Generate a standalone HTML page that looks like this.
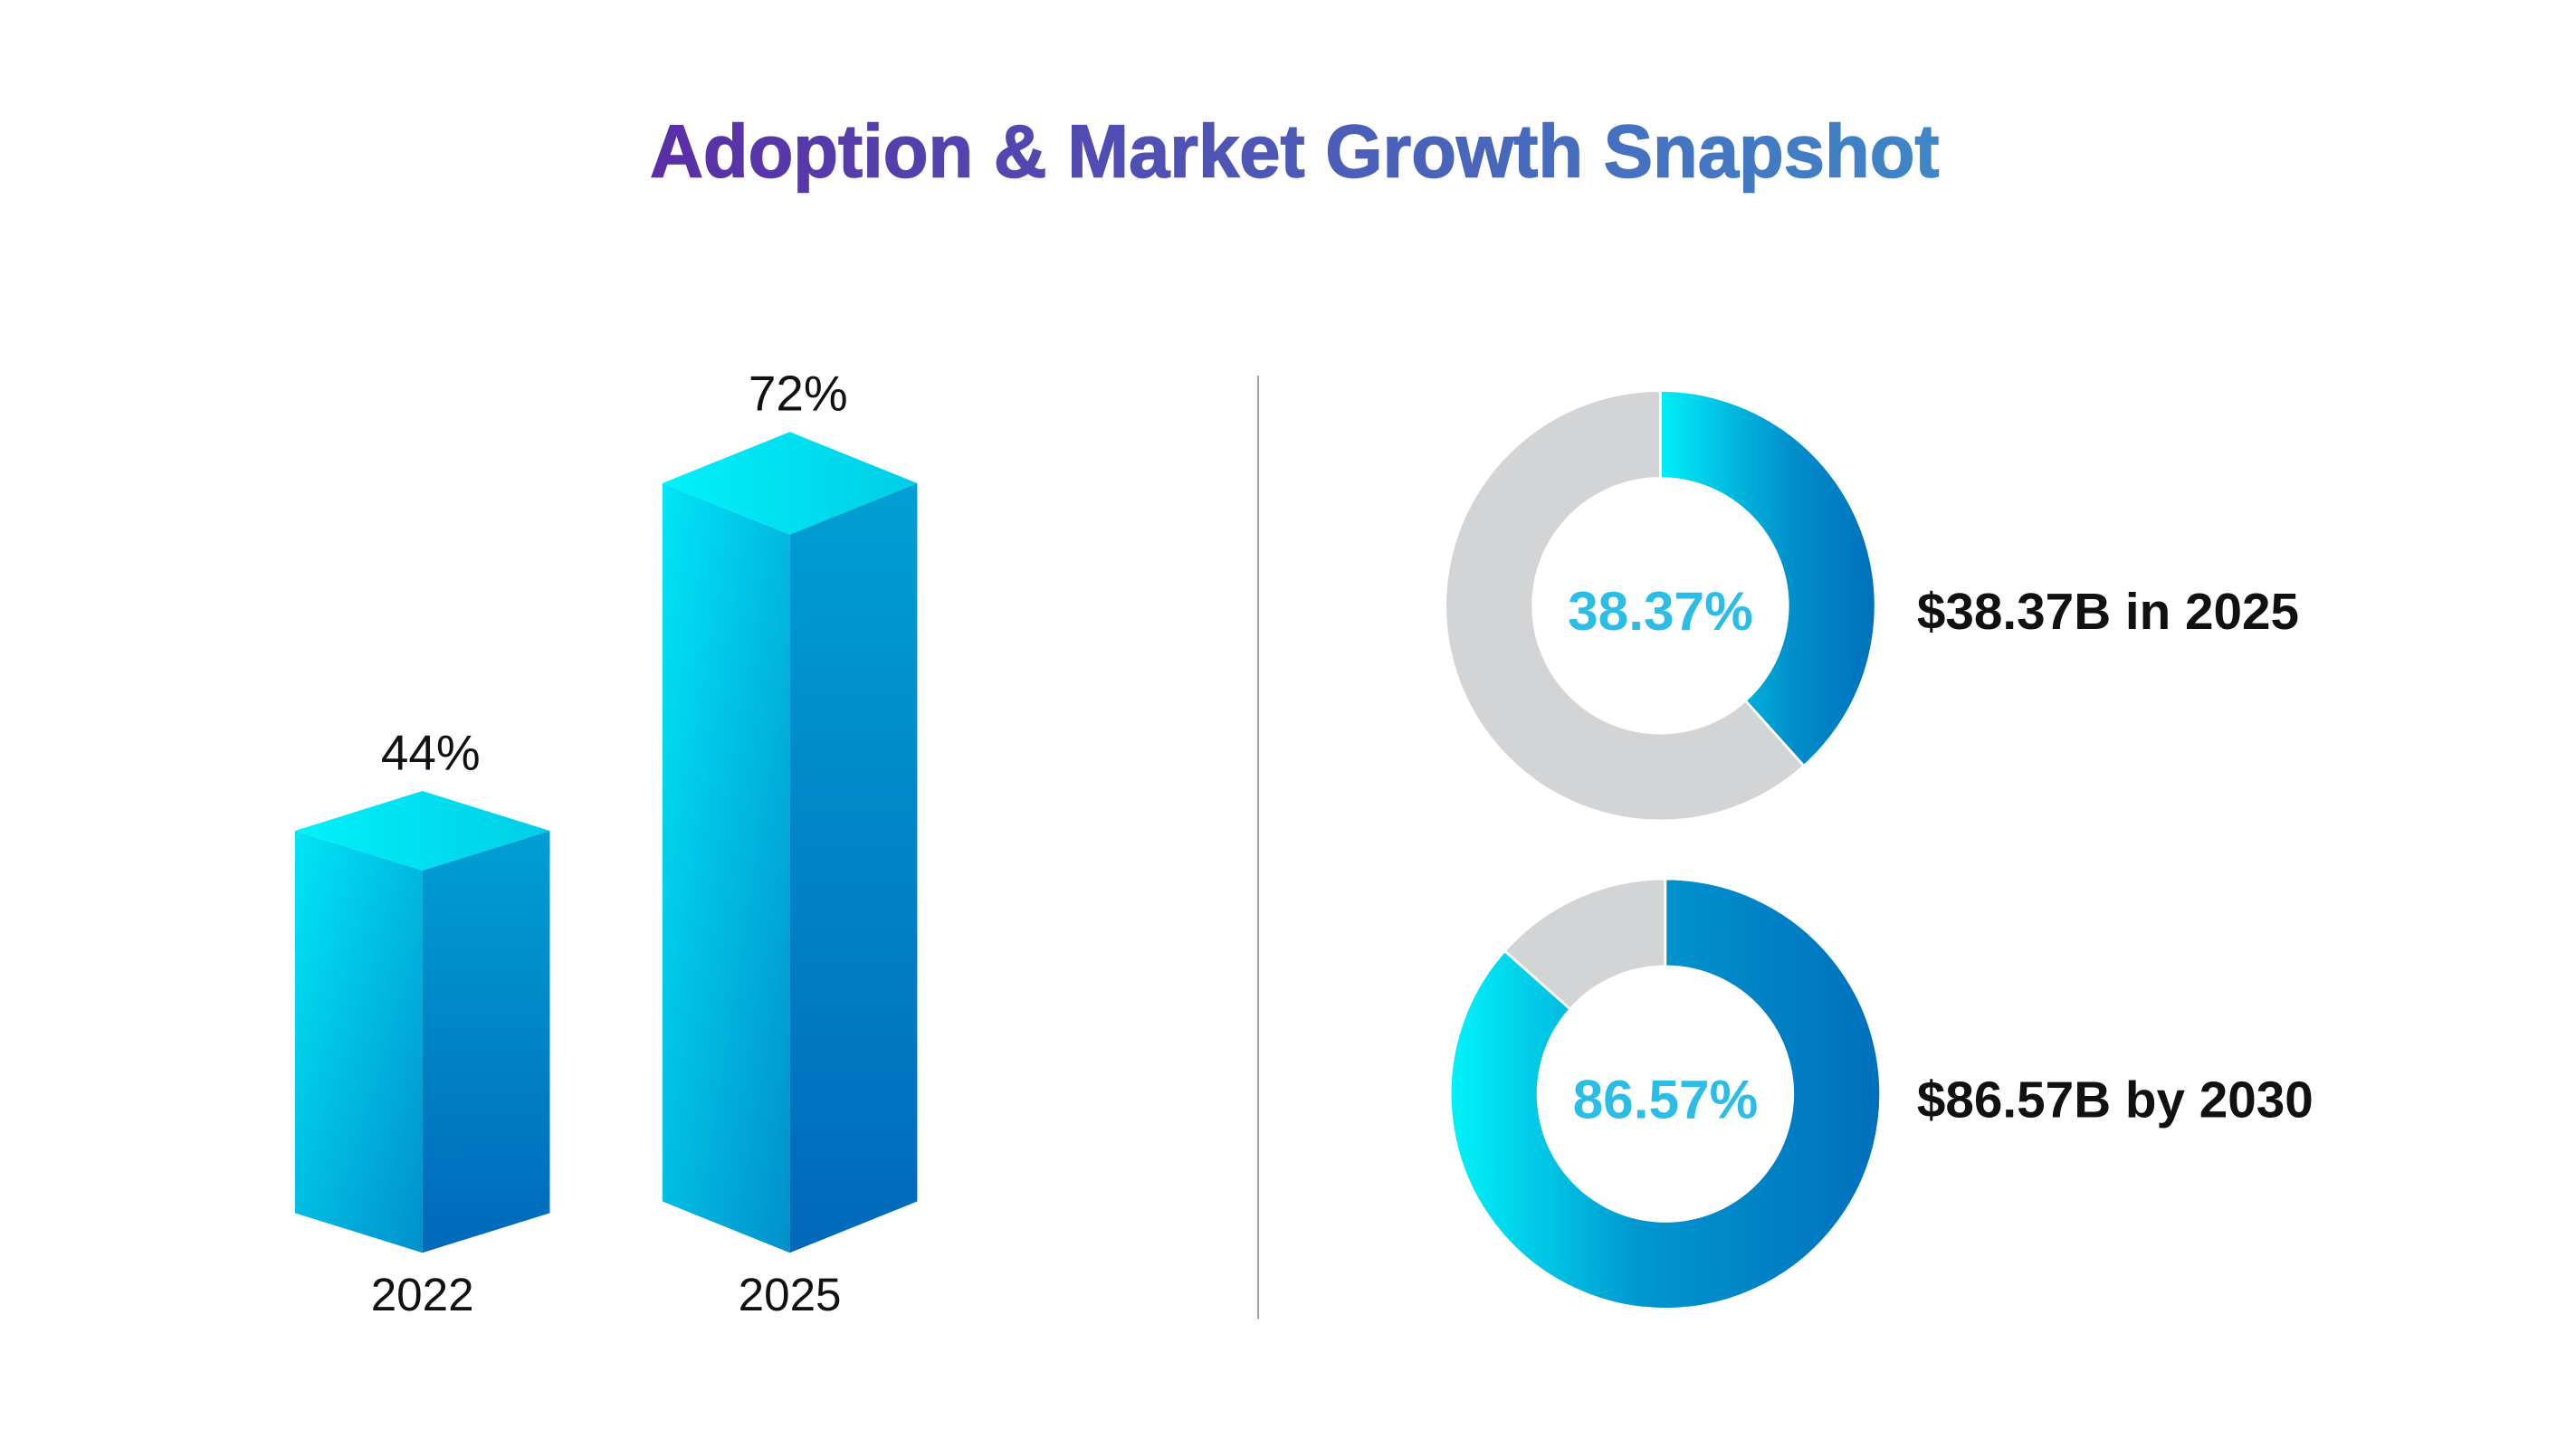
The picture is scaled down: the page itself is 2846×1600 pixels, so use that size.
<!DOCTYPE html>
<html><head><meta charset="utf-8"><style>
html,body{margin:0;padding:0;background:#fff;}
svg{display:block;}
text{font-family:"Liberation Sans",sans-serif;}
</style></head><body>
<svg id="c" width="2846" height="1600" viewBox="0 0 1556 875" xmlns="http://www.w3.org/2000/svg">
<defs>
<linearGradient id="tg" x1="0" x2="1" y1="0" y2="0"><stop offset="0" stop-color="#5a2ea6"/><stop offset="1" stop-color="#3f86c8"/></linearGradient>
<linearGradient id="fl" x1="0" y1="0" x2="1" y2="1"><stop offset="0" stop-color="#00e6f6"/><stop offset="1" stop-color="#0090cc"/></linearGradient>
<linearGradient id="fr" x1="0" y1="0" x2="0" y2="1"><stop offset="0" stop-color="#009fd4"/><stop offset="1" stop-color="#0068ba"/></linearGradient>
<linearGradient id="tp" x1="0" y1="0" x2="1" y2="0"><stop offset="0" stop-color="#00f2fa"/><stop offset="1" stop-color="#00cde6"/></linearGradient>
<linearGradient id="d1" x1="0" y1="0" x2="1" y2="0"><stop offset="0" stop-color="#00eef8"/><stop offset="0.6" stop-color="#0090cc"/><stop offset="1" stop-color="#0070bc"/></linearGradient>
<linearGradient id="d2" x1="0" y1="0" x2="1" y2="0"><stop offset="0" stop-color="#00f4fa"/><stop offset="0.45" stop-color="#0095cf"/><stop offset="1" stop-color="#0070bc"/></linearGradient>
</defs>
<text x="782" y="107" text-anchor="middle" font-size="45" font-weight="bold" fill="url(#tg)" stroke="url(#tg)" stroke-width="0.8" textLength="779" lengthAdjust="spacingAndGlyphs">Adoption &amp; Market Growth Snapshot</text>
<line x1="760" y1="227" x2="760" y2="797" stroke="#999" stroke-width="1"/>
<g id="bars"></g>
<g id="donuts"></g>
</svg>
<script>
const years=["2022","2025"];
const adoption=[44,72];
const marketShare=[38.37,86.57];
const marketLabels=["$38.37B in 2025","$86.57B by 2030"];
const NS="http://www.w3.org/2000/svg";
function mk(tag,attrs,parent){const e=document.createElementNS(NS,tag);for(const k in attrs)e.setAttribute(k,attrs[k]);parent.appendChild(e);return e;}
const barCx=[255,477], depth=[24,31], half=77, base=757;
function hScale(v){return v*7.25-88;}
const bg=document.getElementById('bars');
adoption.forEach((v,i)=>{
  const cx=barCx[i],d=depth[i],top=base-hScale(v);
  const g=mk('g',{},bg);
  
  
  const l=mk('polygon',{points:`${cx-half},${top-d} ${cx},${top} ${cx},${base} ${cx-half},${base-d}`,fill:'url(#fl)'},g);
  
  
  const r=mk('polygon',{points:`${cx},${top} ${cx+half},${top-d} ${cx+half},${base-d} ${cx},${base}`,fill:'url(#fr)'},g);
  
  
  const t=mk('polygon',{points:`${cx-half},${top-d} ${cx},${top-2*d} ${cx+half},${top-d} ${cx},${top}`,fill:'url(#tp)'},g);
  
  
  const vl=mk('text',{x:cx+5,y:top-2*d-13,'text-anchor':'middle','font-size':'30',fill:'#111'},g);
  vl.textContent=v+'%';
  
  
  const xl=mk('text',{x:cx,y:base+35,'text-anchor':'middle','font-size':'28',fill:'#111'},g);
  xl.textContent=years[i];
  
  
});
const dc=[[1003,366],[1006,661]], R=130, r0=77, grads=['url(#d1)','url(#d2)'];
function pt(cx,cy,rad,a){return [cx+rad*Math.sin(a),cy-rad*Math.cos(a)];}
function arc(cx,cy,a0,a1){
  const lg=(a1-a0)>Math.PI?1:0;
  const p1=pt(cx,cy,R,a0),p2=pt(cx,cy,R,a1),p3=pt(cx,cy,r0,a1),p4=pt(cx,cy,r0,a0);
  return `M${p1} A${R},${R} 0 ${lg} 1 ${p2} L${p3} A${r0},${r0} 0 ${lg} 0 ${p4}Z`;
}
const dg=document.getElementById('donuts');
marketShare.forEach((v,i)=>{
  const [cx,cy]=dc[i];
  const g=mk('g',{},dg);
  
  
  const a=v/100*2*Math.PI;
  const rest=mk('path',{d:arc(cx,cy,a,2*Math.PI-0.0001),fill:'#d3d4d6',stroke:'#fff','stroke-width':'1.5'},g);
  
  
  const s=mk('path',{d:arc(cx,cy,0,a),fill:grads[i],stroke:'#fff','stroke-width':'1.5'},g);
  
  
  const ct=mk('text',{x:cx,y:cy+6,'text-anchor':'middle','font-size':'33','font-weight':'bold',fill:'#2cbde6','dominant-baseline':'middle'},g);
  ct.textContent=v.toFixed(2)+'%';
  
  
  const lb=mk('text',{x:1158,y:cy+14,'font-size':'31','font-weight':'bold',fill:'#111'},g);
  lb.textContent=marketLabels[i];
  
  
});
</script>
</body></html>
